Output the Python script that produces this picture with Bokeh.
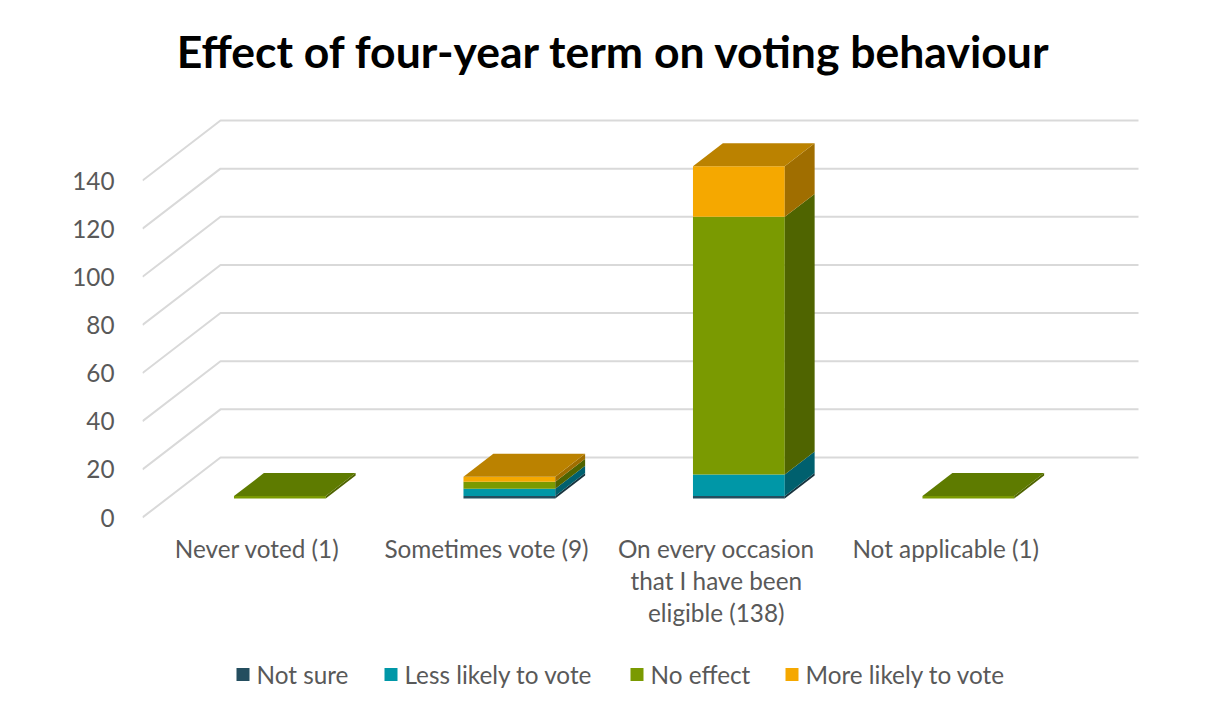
from bokeh.plotting import figure
from bokeh.models import Range1d, FixedTicker, ColumnDataSource
from bokeh.core.properties import value
from bokeh.embed import file_html
from bokeh.resources import INLINE

# ---------------- data ----------------
title_text = "Effect of four-year term on voting behaviour"
categories = ["Never voted (1)", "Sometimes vote (9)",
              "On every occasion\nthat I have been\neligible (138)", "Not applicable (1)"]
series_names = ["Not sure", "Less likely to vote", "No effect", "More likely to vote"]
not_sure = [0, 1, 1, 0]
less_likely = [0, 3, 9, 0]
no_effect = [1, 3, 107, 1]
more_likely = [0, 2, 21, 0]
y_ticks = [0, 20, 40, 60, 80, 100, 120, 140]

# ---------------- styles ----------------
front_cols = ["#244E5F", "#0097A7", "#7A9A01", "#F5A800"]
side_cols = ["#17343F", "#00606E", "#4F6400", "#A06E00"]
top_cols = ["#1C4050", "#007C8A", "#5E7B00", "#BB8200"]
FONT = "Lato"
TXT = "#595959"
FS = "24.3px"

W, H = 1209, 701
OFF = 0               # page offset of the figure as photographed
LEFT = 142            # width of the axis panel (figure px)
CAT_PX = 229.5        # px per category
ZERO_PX = 517         # figure-px y of value 0 on the front plane
UNIT_PX = 2.407       # px per value unit
DX = 78 / CAT_PX      # depth offset of the wall (data units)
DY = 60 / UNIT_PX
F0X, F0Y, F1 = 0.29, 0.317, 0.70  # bar depth fractions
HALF_W = 0.20


def px_x(page_x):
    return (page_x - OFF - LEFT) / CAT_PX


def px_y(page_y):
    return (ZERO_PX - (page_y - OFF)) / UNIT_PX


p = figure(width=W, height=H, output_backend="svg", toolbar_location=None,
           x_range=Range1d(0, (W - LEFT) / CAT_PX),
           y_range=Range1d(-(H - ZERO_PX) / UNIT_PX, ZERO_PX / UNIT_PX),
           x_axis_location=None, min_border_left=LEFT, min_border_right=0,
           min_border_top=0, min_border_bottom=0)
p.outline_line_color = None
p.grid.visible = False
p.background_fill_color = "white"
p.border_fill_color = "white"

yax = p.yaxis[0]
yax.ticker = FixedTicker(ticks=y_ticks)
yax.axis_line_color = None
yax.major_tick_line_color = None
yax.minor_tick_line_color = None
yax.major_label_text_font = FONT
yax.major_label_text_font_size = FS
yax.major_label_text_color = TXT
yax.major_label_standoff = 22

n = len(categories)
# gridlines (floor-to-wall 3D)
gx, gy = [], []
for t in y_ticks:
    gx.append([0, DX, n + DX])
    gy.append([t, t + DY, t + DY])
p.multi_line(gx, gy, line_color="#D9D9D9", line_width=2)

# bars
series = [not_sure, less_likely, no_effect, more_likely]
ox, oy = F0X * DX, F0Y * DY
sx, sy = (F1 - F0Y) * DX, (F1 - F0Y) * DY
xs, ys, cols = [], [], []
for i in range(n):
    c = i + 0.5
    xl, xr = c - HALF_W + ox, c + HALF_W + ox
    b = 0.0
    last = None
    for k, s in enumerate(series):
        v = s[i]
        if v <= 0:
            continue
        t = b + v
        xs.append([xl, xr, xr, xl]); ys.append([b + oy, b + oy, t + oy, t + oy]); cols.append(front_cols[k])
        xs.append([xr, xr + sx, xr + sx, xr]); ys.append([b + oy, b + oy + sy, t + oy + sy, t + oy]); cols.append(side_cols[k])
        b = t
        last = k
    if last is not None:
        xs.append([xl, xr, xr + sx, xl + sx]); ys.append([b + oy, b + oy, b + oy + sy, b + oy + sy]); cols.append(top_cols[last])
p.patches(xs="xs", ys="ys", fill_color="cols", line_color=None,
          source=ColumnDataSource(dict(xs=xs, ys=ys, cols=cols)))

# category labels
lx, ly, lt = [], [], []
for i, cat in enumerate(categories):
    for j, line in enumerate(cat.split("\n")):
        lx.append(i + 0.5); ly.append(px_y(548 + 32 * j)); lt.append(line)
p.text(lx, ly, text=lt, text_font=value(FONT), text_font_size=FS, text_color=TXT,
       text_align="center", text_baseline="middle")

# title
p.text([px_x(613.5)], [px_y(50)], text=[title_text], text_font=value(FONT),
       text_font_size="44.5px", text_font_style="bold", text_color="#000000",
       text_align="center", text_baseline="middle")

# legend
leg_left = [236, 384, 630, 785]
sq_x = [px_x(v + 6.5) for v in leg_left]
p.scatter(sq_x, [px_y(674)] * 4, marker="square", size=13, fill_color=front_cols, line_color=None)
p.text([px_x(v + 20) for v in leg_left], [px_y(674)] * 4, text=series_names, text_font=value(FONT),
       text_font_size=FS, text_color=TXT, text_align="left", text_baseline="middle")

open("out.html", "w").write(file_html(p, INLINE))
